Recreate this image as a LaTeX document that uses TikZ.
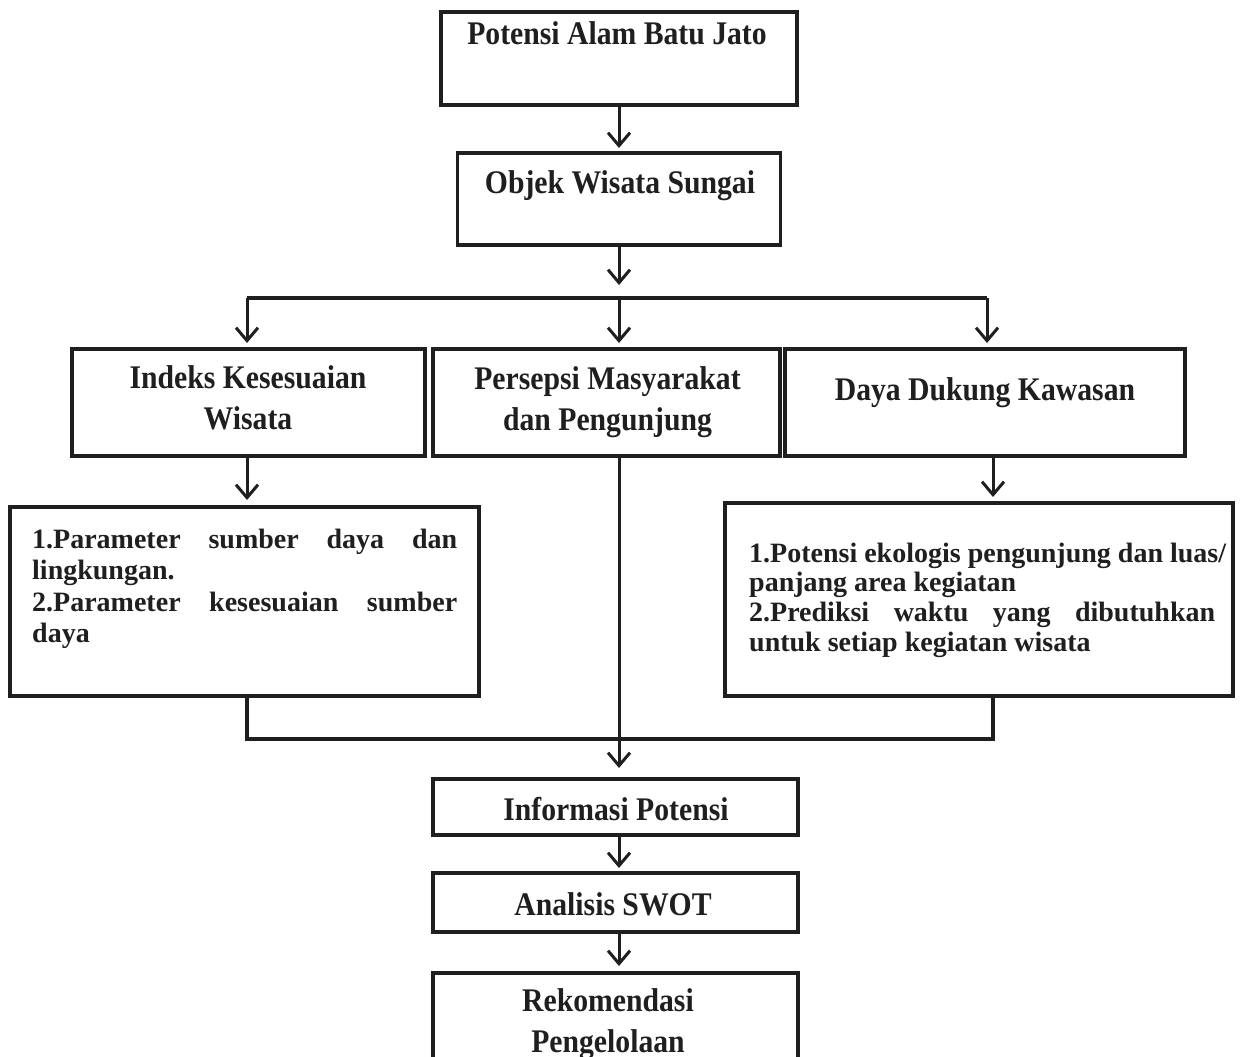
\documentclass[tikz,border=0pt]{standalone}
\usepackage{fontspec}
\setmainfont{Liberation Serif}
\newfontfamily\tfont{Liberation Serif}[FakeStretch=0.9]
\usetikzlibrary{arrows.meta}
\begin{document}
\begin{tikzpicture}[x=1pt,y=-1pt,
  box/.style={draw=black!88, line width=3.4pt, outer sep=0pt, inner sep=0pt},
  conn/.style={draw=black!88, line width=3.2pt},
  arr/.style={draw=black!88, line width=3pt, -{Straight Barb[length=13pt,width=22pt]}},
  ttl/.style={inner sep=0pt, anchor=base, text=black!88, font=\tfont\bfseries\fontsize{33}{41}\selectfont},
  par/.style={inner sep=0pt, anchor=base west, text=black!88}
]
\fill[white] (0,0) rectangle (1240,1057);
\useasboundingbox (0,0) rectangle (1240,1057);
\clip (0,0) rectangle (1240,1057);

% boxes
\node[box, minimum width=356pt, minimum height=93pt] (b1) at (619,58.5) {};
\node[box, minimum width=323pt, minimum height=92pt] (b2) at (619,199) {};
\node[box, minimum width=353pt, minimum height=107pt] (ikw) at (248.5,402.5) {};
\node[box, minimum width=347pt, minimum height=107pt] (per) at (606.5,402.5) {};
\node[box, minimum width=400pt, minimum height=107pt] (day) at (985,402.5) {};
\node[box, minimum width=469pt, minimum height=189pt] (pl) at (244.5,601.5) {};
\node[box, minimum width=508pt, minimum height=193pt] (pr) at (979,599.5) {};
\node[box, minimum width=365pt, minimum height=56pt] (inf) at (615.5,807) {};
\node[box, minimum width=365pt, minimum height=59pt] (swot) at (615.5,902.5) {};
\node[box, minimum width=365pt, minimum height=130pt] (rek) at (615.5,1038) {};

% texts
\node[ttl] (t1) at (617,45) {Potensi Alam Batu Jato};
\node[ttl] (t2) at (620,193) {Objek Wisata Sungai};
\node[ttl] (tikw) at (248,388) {\parbox[t]{330pt}{\centering Indeks Kesesuaian\\Wisata}};
\node[ttl] (tper) at (607.5,389) {\parbox[t]{330pt}{\centering Persepsi Masyarakat\\dan Pengunjung}};
\node[ttl] (tday) at (985,400) {Daya Dukung Kawasan};
\node[ttl] (tinf) at (616,820) {Informasi Potensi};
\node[ttl] (tswot) at (613,915) {Analisis SWOT};
\node[ttl] (trek) at (608,1011) {\parbox[t]{330pt}{\centering Rekomendasi\\Pengelolaan}};

\node[par] (tpl) at (32,548) {\parbox[t]{425pt}{\bfseries\fontsize{28}{31.5}\selectfont
\makebox[425pt][s]{1.Parameter sumber daya dan}\\
lingkungan.\\
\makebox[425pt][s]{2.Parameter kesesuaian sumber}\\
daya}};
\node[par] (tpr) at (749,562) {\parbox[t]{485pt}{\bfseries\fontsize{28}{29.8}\selectfont
1.Potensi ekologis pengunjung dan luas/\\
panjang area kegiatan\\
\makebox[466pt][s]{2.Prediksi waktu yang dibutuhkan}\\
untuk setiap kegiatan wisata}};

% junction coordinates
\coordinate (xl) at (247,298);
\coordinate (xc) at (619,298);
\coordinate (xr) at (987,298);
\coordinate (jl) at (247,739);
\coordinate (jr) at (993,739);

% connectors
\draw[arr, shorten >=5pt] (b1.south) -- (b2.north);
\draw[arr, shorten >=13pt] (b2.south) -- (xc);
\draw[conn] (xl) -- (xr);
\draw[arr, shorten >=6pt] (xl) -- (xl |- ikw.north);
\draw[arr, shorten >=6pt] (xc) -- (xc |- per.north);
\draw[arr, shorten >=6pt] (xr) -- (xr |- day.north);
\draw[arr, shorten >=7pt] (ikw.south -| xl) -- (xl |- pl.north);
\draw[arr, shorten >=6pt] (day.south -| jr) -- (jr |- pr.north);
\draw[conn] (pl.south -| jl) -- (jl) -- (jr) -- (pr.south -| jr);
\draw[arr, shorten >=11pt] (per.south -| xc) -- (xc |- inf.north);
\draw[arr, shorten >=5pt] (inf.south -| xc) -- (xc |- swot.north);
\draw[arr, shorten >=7pt] (swot.south -| xc) -- (xc |- rek.north);
\end{tikzpicture}
\end{document}
